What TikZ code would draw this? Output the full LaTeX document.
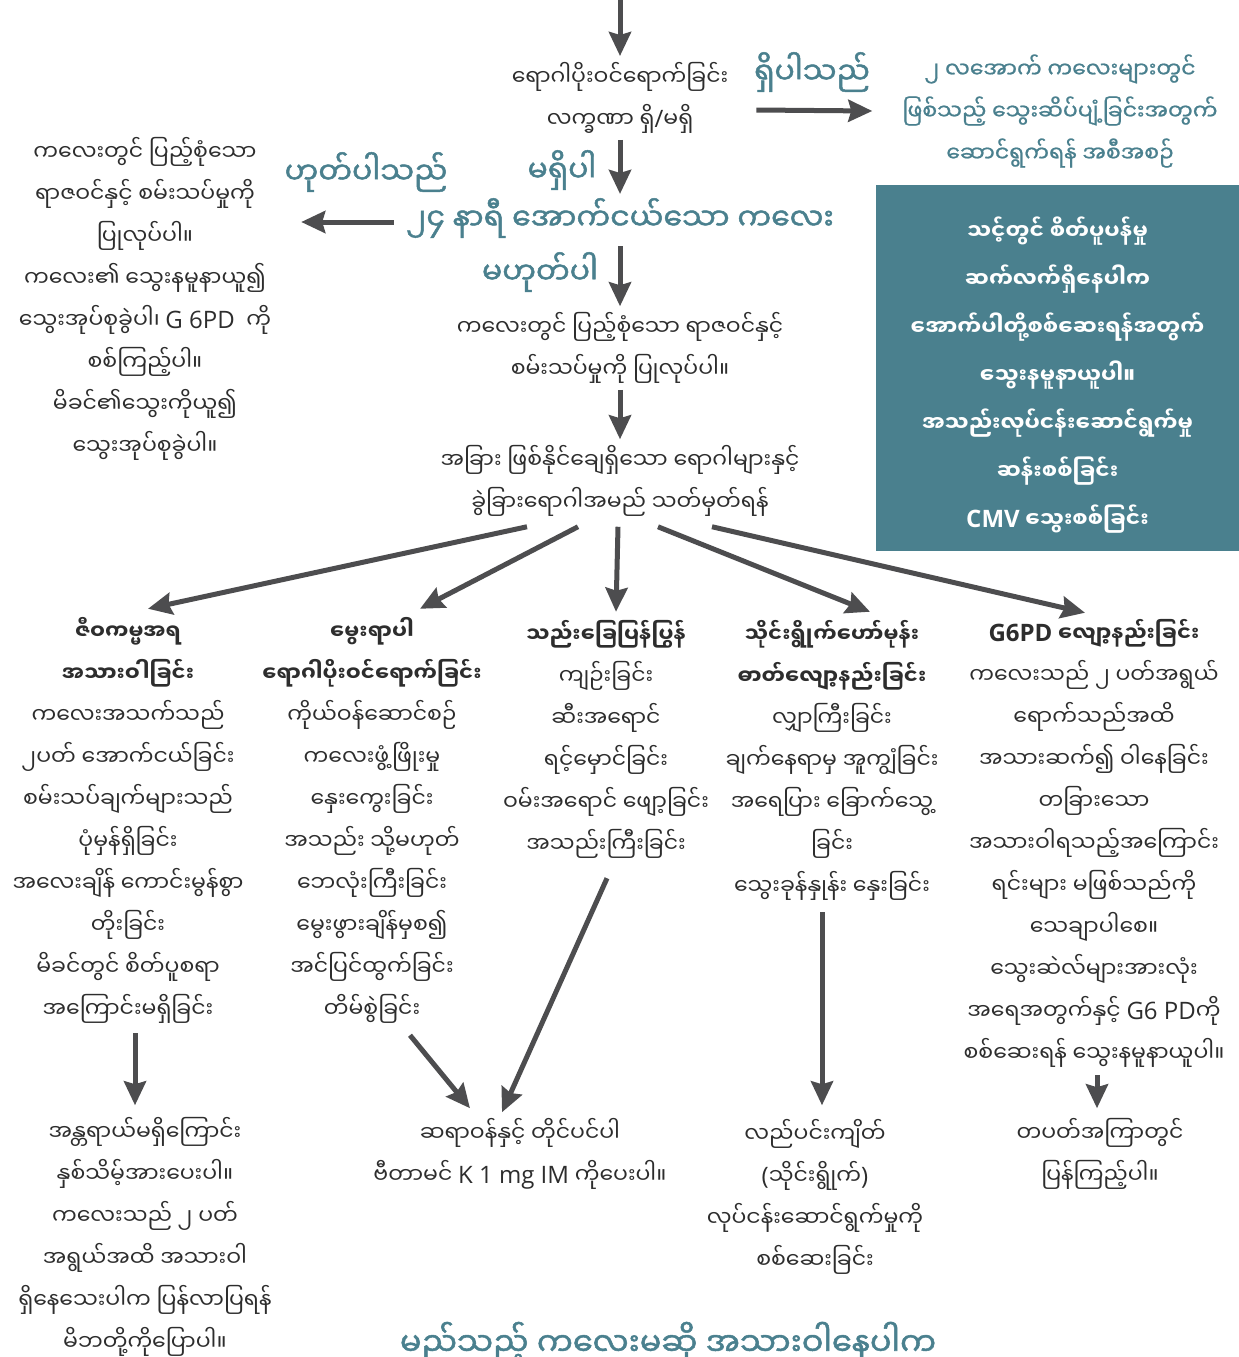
\documentclass[tikz,border=0pt]{standalone}
\usepackage{fontspec}
\usetikzlibrary{arrows.meta}
\newfontfamily\myan[Script=Myanmar]{Noto Sans Myanmar UI}
\newfontfamily\myanmed[Script=Myanmar,FakeBold=1.6]{Noto Sans Myanmar UI}
\newfontfamily\myansemi[Script=Myanmar,FakeBold=0.8]{Noto Sans Myanmar UI}
\newfontfamily\latn{Open Sans}
\newcommand\lt[1]{{\latn\fontsize{24}{42}\selectfont #1}}
\newcommand\hd{\bfseries\fontsize{21}{42}\selectfont}
\definecolor{tealblue}{RGB}{74,128,142}
\definecolor{arrowgray}{RGB}{77,77,79}
\definecolor{textgray}{RGB}{45,45,45}
\tikzset{
  txt/.style={align=center, inner sep=0pt, text=textgray, font=\myan\fontsize{22}{42}\selectfont},
  lbl/.style={inner sep=0pt, text=tealblue, font=\myanmed\fontsize{30}{40}\selectfont},
  tealtxt/.style={txt, text=tealblue, font=\myansemi\fontsize{22}{42}\selectfont},
  box/.style={fill=tealblue, inner sep=0pt, minimum width=363pt, minimum height=366pt},
  boxtxt/.style={txt, text=white, font=\myan\bfseries\fontsize{21.5}{48}\selectfont},
  arr/.style={draw=arrowgray, line width=5pt, -{Stealth[length=24pt,width=22pt,inset=3pt]}}
}
\begin{document}
\begin{tikzpicture}[x=1pt,y=-1pt]
\useasboundingbox (0,0) rectangle (1239,1357);
% top of the chart
\coordinate (top) at (620,0);
\node[txt] (ask) at (620,98) {ရောဂါပိုးဝင်ရောက်ခြင်း\\လက္ခဏာ ရှိ\lt{/}မရှိ};
\node[tealtxt] (sepsis) at (1060,111) {၂ လအောက် ကလေးများတွင်\\ဖြစ်သည့် သွေးဆိပ်ပျံ့ခြင်းအတွက်\\ဆောင်ရွက်ရန် အစီအစဉ်};
\node[lbl] (yes1) at (812,72) {ရှိပါသည်};
\node[lbl] (no1) at (562,170) {မရှိပါ};
\node[lbl] (age) at (620,218) {၂၄ နာရီ အောက်ငယ်သော ကလေး};
\node[lbl] (yes2) at (366,172) {ဟုတ်ပါသည်};
\node[lbl] (no2) at (540,272) {မဟုတ်ပါ};
\node[txt] (exam) at (620,348) {ကလေးတွင် ပြည့်စုံသော ရာဇဝင်နှင့်\\စမ်းသပ်မှုကို ပြုလုပ်ပါ။};
\node[txt] (early) at (145,299) {ကလေးတွင် ပြည့်စုံသော\\ရာဇဝင်နှင့် စမ်းသပ်မှုကို\\ပြုလုပ်ပါ။\\ကလေး၏ သွေးနမူနာယူ၍\\သွေးအုပ်စုခွဲပါ၊ \lt{G 6PD}\ \ ကို\\စစ်ကြည့်ပါ။\\မိခင်၏သွေးကိုယူ၍\\သွေးအုပ်စုခွဲပါ။};
% box with further tests
\node[box] (care) at (1057.5,368) {};
\node[boxtxt] (caretxt) at (1057.5,375) {သင့်တွင် စိတ်ပူပန်မှု\\ဆက်လက်ရှိနေပါက\\အောက်ပါတို့စစ်ဆေးရန်အတွက်\\သွေးနမူနာယူပါ။\\အသည်းလုပ်ငန်းဆောင်ရွက်မှု\\ဆန်းစစ်ခြင်း\\\lt{\bfseries CMV} သွေးစစ်ခြင်း};
\node[txt] (diff) at (620,481) {အခြား ဖြစ်နိုင်ချေရှိသော ရောဂါများနှင့်\\ခွဲခြားရောဂါအမည် သတ်မှတ်ရန်};
% the five causes
\node[txt] (phys) at (128,820) {{\hd ဇီဝကမ္မအရ}\\{\hd အသားဝါခြင်း}\\ကလေးအသက်သည်\\၂ပတ် အောက်ငယ်ခြင်း\\စမ်းသပ်ချက်များသည်\\ပုံမှန်ရှိခြင်း\\အလေးချိန် ကောင်းမွန်စွာ\\တိုးခြင်း\\မိခင်တွင် စိတ်ပူစရာ\\အကြောင်းမရှိခြင်း};
\node[txt] (cong) at (372,820) {{\hd မွေးရာပါ}\\{\hd ရောဂါပိုးဝင်ရောက်ခြင်း}\\ကိုယ်ဝန်ဆောင်စဉ်\\ကလေးဖွံ့ဖြိုးမှု\\နှေးကွေးခြင်း\\အသည်း သို့မဟုတ်\\ဘေလုံးကြီးခြင်း\\မွေးဖွားချိန်မှစ၍\\အင်ပြင်ထွက်ခြင်း\\တိမ်စွဲခြင်း};
\node[txt] (bile) at (606,739) {{\hd သည်းခြေပြန်ပြွန်}\\ကျဉ်းခြင်း\\ဆီးအရောင်\\ရင့်မှောင်ခြင်း\\ဝမ်းအရောင် ဖျော့ခြင်း\\အသည်းကြီးခြင်း};
\node[txt] (thyr) at (832,760) {{\hd သိုင်းရွိုက်ဟော်မုန်း}\\{\hd ဓာတ်လျော့နည်းခြင်း}\\လျှာကြီးခြင်း\\ချက်နေရာမှ အူကျွံခြင်း\\အရေပြား ခြောက်သွေ့\\ခြင်း\\သွေးခုန်နှုန်း နှေးခြင်း};
\node[txt] (gpd) at (1094,843) {\lt{\bfseries G6PD} {\hd လျော့နည်းခြင်း}\\ကလေးသည် ၂ ပတ်အရွယ်\\ရောက်သည်အထိ\\အသားဆက်၍ ဝါနေခြင်း\\တခြားသော\\အသားဝါရသည့်အကြောင်း\\ရင်းများ မဖြစ်သည်ကို\\သေချာပါစေ။\\သွေးဆဲလ်များအားလုံး\\အရေအတွက်နှင့် \lt{G6 PD}ကို\\စစ်ဆေးရန် သွေးနမူနာယူပါ။};
% actions
\node[txt] (reassure) at (145,1237) {အန္တရာယ်မရှိကြောင်း\\နှစ်သိမ့်အားပေးပါ။\\ကလေးသည် ၂ ပတ်\\အရွယ်အထိ အသားဝါ\\ရှိနေသေးပါက ပြန်လာပြရန်\\မိဘတို့ကိုပြောပါ။};
\node[txt] (vitk) at (520,1154) {ဆရာဝန်နှင့် တိုင်ပင်ပါ\\ဗီတာမင် \lt{K 1 mg IM} ကိုပေးပါ။};
\node[txt] (thyrtest) at (815,1197) {လည်ပင်းကျိတ်\\\lt{(}သိုင်းရွိုက်\lt{)}\\လုပ်ငန်းဆောင်ရွက်မှုကို\\စစ်ဆေးခြင်း};
\node[txt] (review) at (1100,1154) {တပတ်အကြာတွင်\\ပြန်ကြည့်ပါ။};
\node[lbl, font=\myanmed\fontsize{32}{40}\selectfont] (title) at (668,1343) {မည်သည့် ကလေးမဆို အသားဝါနေပါက};
% arrows
\draw[arr] (top) -- ([yshift=6pt]ask.north);
\draw[arr] ([xshift=28pt,yshift=-12pt]ask.east) -- ([xshift=-30pt]sepsis.west);
\draw[arr] ([yshift=-6pt]ask.south) -- ([yshift=4pt]age.north);
\draw[arr] ([xshift=-12pt,yshift=-4pt]age.west) -- ([xshift=30pt,yshift=-4pt]early.east |- age.west);
\draw[arr] ([yshift=-8pt]age.south) -- ([yshift=6pt]exam.north);
\draw[arr] ([yshift=-6pt]exam.south) -- ([yshift=6pt]diff.north);
\draw[arr] ([xshift=-93pt,yshift=-10pt]diff.south) -- ([xshift=20pt,yshift=8pt]phys.north);
\draw[arr] ([xshift=-42pt,yshift=-10pt]diff.south) -- ([xshift=48pt,yshift=8pt]cong.north);
\draw[arr] ([xshift=-2pt,yshift=-10pt]diff.south) -- ([xshift=10pt,yshift=8pt]bile.north);
\draw[arr] ([xshift=38pt,yshift=-10pt]diff.south) -- ([xshift=38pt,yshift=8pt]thyr.north);
\draw[arr] ([xshift=92pt,yshift=-10pt]diff.south) -- ([xshift=-9pt,yshift=6pt]gpd.north);
\draw[arr] ([xshift=7pt,yshift=-10pt]phys.south) -- ([xshift=-10pt,yshift=12pt]reassure.north);
\draw[arr] ([xshift=38pt,yshift=-12pt]cong.south) -- ([xshift=-50pt,yshift=10pt]vitk.north);
\draw[arr] ([xshift=1pt,yshift=-20pt]bile.south) -- ([xshift=-18pt,yshift=6pt]vitk.north);
\draw[arr] ([xshift=-10pt,yshift=-12pt]thyr.south) -- ([xshift=7pt,yshift=14pt]thyrtest.north);
\draw[arr] ([xshift=3pt,yshift=-8pt]gpd.south) -- ([xshift=-3pt,yshift=10pt]review.north);
\end{tikzpicture}
\end{document}
